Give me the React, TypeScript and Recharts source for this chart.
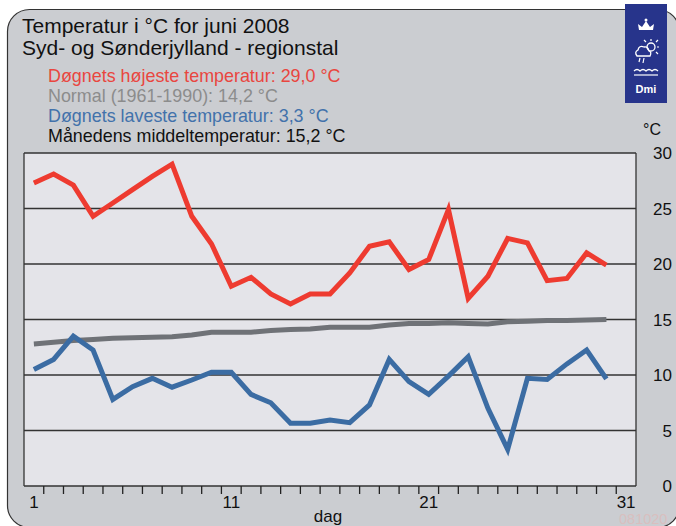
import { LineChart, Line, XAxis, YAxis, CartesianGrid } from 'recharts';

const days = [1, 2, 3, 4, 5, 6, 7, 8, 9, 10, 11, 12, 13, 14, 15, 16, 17, 18, 19, 20, 21, 22, 23, 24, 25, 26, 27, 28, 29, 30];
const maxTemp = [27.3, 28.1, 27.1, 24.3, 25.5, 26.7, 27.9, 29.0, 24.3, 21.8, 18.0, 18.8, 17.3, 16.4, 17.3, 17.3, 19.2, 21.6, 22.0, 19.5, 20.4, 24.9, 16.9, 18.9, 22.3, 21.9, 18.5, 18.7, 21.0, 19.9];
const normalTemp = [12.8, 12.95, 13.1, 13.2, 13.3, 13.35, 13.4, 13.45, 13.6, 13.85, 13.85, 13.85, 14.0, 14.1, 14.15, 14.3, 14.3, 14.3, 14.5, 14.65, 14.65, 14.7, 14.65, 14.6, 14.8, 14.85, 14.9, 14.9, 14.95, 15.0];
const minTemp = [10.5, 11.4, 13.5, 12.25, 7.8, 8.95, 9.7, 8.9, 9.55, 10.25, 10.25, 8.25, 7.5, 5.65, 5.65, 5.95, 5.7, 7.3, 11.4, 9.4, 8.25, 9.9, 11.65, 7.0, 3.3, 9.7, 9.6, 11.0, 12.25, 9.65];

const yTicks = [0, 5, 10, 15, 20, 25, 30];
const dayLabels = [1, 11, 21, 31];
const halfDays = Array.from({ length: 30 }, (_, i) => i + 1.5);

const data = days.map((d, i) => ({ day: d, max: maxTemp[i], normal: normalTemp[i], min: minTemp[i] }));

const FONT = '"Liberation Sans", Arial, Helvetica, sans-serif';

const XTick = (props: any) => {
  const { x, y, payload } = props;
  if (Number.isInteger(payload.value)) {
    return (
      <text x={x} y={y + 22} textAnchor="middle" fontSize={17} fontFamily={FONT} fill="#111">
        {payload.value}
      </text>
    );
  }
  return <line x1={x} x2={x} y1={y} y2={y + 8} stroke="#222" strokeWidth={1.3} />;
};

const YTick = (props: any) => {
  const { y, payload } = props;
  return (
    <text x={672} y={y} dy="0.36em" textAnchor="end" fontSize={17} fontFamily={FONT} fill="#111">
      {payload.value}
    </text>
  );
};

const Backdrop = () => (
  <svg width={676} height={526} style={{ position: 'absolute', left: 0, top: 0 }}>
    <rect x={7.5} y={9.5} width={672} height={518} rx={22} fill="#cbcdd1" stroke="#333" strokeWidth={1.2} />
    <g fontFamily={FONT}>
      <text x={22} y={33} fontSize={21} fill="#111">Temperatur i °C for juni 2008</text>
      <text x={22} y={55} fontSize={21} fill="#111">Syd- og Sønderjylland - regionstal</text>
      <text x={48} y={82} fontSize={17.9} fill="#e9463f">Døgnets højeste temperatur: 29,0 °C</text>
      <text x={48} y={101.5} fontSize={17.9} fill="#8c8c8c">Normal (1961-1990): 14,2 °C</text>
      <text x={48} y={121.5} fontSize={17.9} fill="#4272ab">Døgnets laveste temperatur: 3,3 °C</text>
      <text x={48} y={141.5} fontSize={17.9} fill="#111">Månedens middeltemperatur: 15,2 °C</text>
      <text x={643} y={135} fontSize={16} fill="#111">°C</text>
      <text x={328} y={521.5} textAnchor="middle" fontSize={17} fill="#111">dag</text>
      <text x={619} y={524} fontSize={14.5} fill="#d9bfbf">081020</text>
    </g>
    <g>
      <rect x={625} y={4} width={42} height={99} fill="#27348b" />
      <path d="M639 30 L653 30 L654 24 L650 27 L646 21 L642 27 L638 24 Z" fill="#fff" />
      <circle cx={646} cy={20} r={1.5} fill="#fff" />
      <circle cx={651} cy={47} r={4} fill="none" stroke="#fff" strokeWidth={1.3} />
      <path d="M651 39 L651 41 M657 47 L659 47 M656 42 L658 40 M656 52 L658 54 M646 42 L644 40" stroke="#fff" strokeWidth={1.2} />
      <path d="M637 56 Q634 52 638 50 Q639 45 644 47 Q648 46 649 51 Q652 52 650 56 Z" fill="none" stroke="#fff" strokeWidth={1.3} />
      <path d="M640 58 L639 62 M644 58 L643 63" stroke="#fff" strokeWidth={1.2} />
      <path d="M634 71 Q637 68 640 71 Q643 68 646 71 Q649 68 652 71 Q655 68 658 71" fill="none" stroke="#fff" strokeWidth={1.2} />
      <path d="M634 75 L658 75" stroke="#fff" strokeWidth={1.2} />
      <text x={646} y={93} textAnchor="middle" fontSize={11} fontWeight="bold" fontFamily={FONT} fill="#fff">Dmi</text>
    </g>
  </svg>
);

export default function App() {
  return (
    <div style={{ position: 'absolute', left: 0, top: 0, width: 676, height: 526, background: '#fff' }}>
      <Backdrop />
      <div style={{ position: 'absolute', left: 0, top: 0 }}>
        <LineChart width={676} height={526} data={data} margin={{ top: 153, right: 0, bottom: 0, left: 24 }}>
          <CartesianGrid
            fill="#e4e4e9"
            fillOpacity={1}
            stroke="#333"
            strokeWidth={1.3}
            verticalPoints={[24, 636]}
          />
          <XAxis
            dataKey="day"
            type="number"
            domain={[0.5, 31.5]}
            ticks={[...halfDays, ...dayLabels]}
            interval={0}
            tick={<XTick />}
            tickLine={false}
            axisLine={false}
            tickSize={0}
            tickMargin={0}
            height={40}
          />
          <YAxis
            orientation="right"
            domain={[0, 30]}
            ticks={yTicks}
            interval={0}
            tick={<YTick />}
            tickLine={false}
            axisLine={false}
            width={40}
          />
          <Line type="linear" dataKey="normal" stroke="#6f7277" strokeWidth={5} dot={false} strokeLinejoin="miter" isAnimationActive={false} />
          <Line type="linear" dataKey="min" stroke="#3b6ca3" strokeWidth={5} dot={false} strokeLinejoin="miter" isAnimationActive={false} />
          <Line type="linear" dataKey="max" stroke="#ee3b30" strokeWidth={5} dot={false} strokeLinejoin="miter" isAnimationActive={false} />
        </LineChart>
      </div>
    </div>
  );
}
